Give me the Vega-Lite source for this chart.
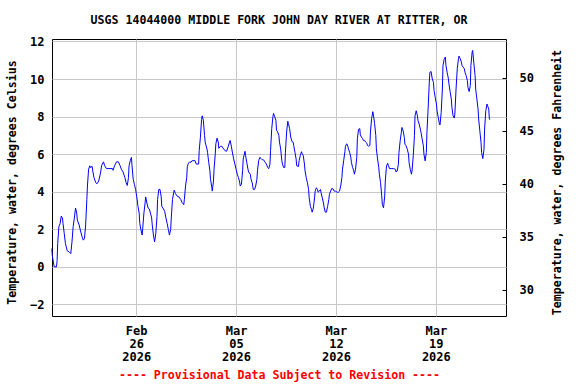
{
  "$schema": "https://vega.github.io/schema/vega-lite/v6.json",
  "width": 454,
  "height": 277,
  "autosize": "none",
  "padding": {"left": 52, "top": 39, "right": 70, "bottom": 68},
  "background": "white",
  "title": {
    "text": "USGS 14044000 MIDDLE FORK JOHN DAY RIVER AT RITTER, OR",
    "font": "DejaVu Sans Mono",
    "fontSize": 11.6,
    "fontWeight": "bold",
    "color": "black",
    "anchor": "middle",
    "offset": 9
  },
  "config": {
    "view": {"stroke": "black", "strokeWidth": 1},
    "axis": {
      "labelFont": "DejaVu Sans Mono",
      "labelFontSize": 12,
      "labelFontWeight": "bold",
      "labelColor": "black",
      "titleFont": "DejaVu Sans Mono",
      "titleFontSize": 11.6,
      "titleFontWeight": "bold",
      "titleColor": "black",
      "gridColor": "#c8c8c8",
      "gridWidth": 1,
      "domain": false
    }
  },
  "data": {
    "values": [
      {"t":"2026-02-20T02:00","v":0.97},{"t":"2026-02-20T03:00","v":0.58},{"t":"2026-02-20T05:00","v":0.2},{"t":"2026-02-20T06:00","v":0},{"t":"2026-02-20T10:00","v":0},{"t":"2026-02-20T11:00","v":0.34},{"t":"2026-02-20T12:00","v":1.24},{"t":"2026-02-20T14:00","v":2.14},{"t":"2026-02-20T16:00","v":2.3},{"t":"2026-02-20T18:00","v":2.7},{"t":"2026-02-20T20:00","v":2.6},{"t":"2026-02-20T21:00","v":2.3},{"t":"2026-02-20T23:00","v":1.78},
      {"t":"2026-02-21T01:00","v":1.24},{"t":"2026-02-21T04:00","v":0.85},{"t":"2026-02-21T07:00","v":0.8},{"t":"2026-02-21T10:00","v":0.7},{"t":"2026-02-21T12:00","v":1.33},{"t":"2026-02-21T14:00","v":2.14},{"t":"2026-02-21T16:00","v":2.6},{"t":"2026-02-21T18:00","v":3.13},{"t":"2026-02-21T20:00","v":2.86},{"t":"2026-02-21T21:00","v":2.5},
      {"t":"2026-02-22T00:00","v":2.23},{"t":"2026-02-22T02:00","v":1.96},{"t":"2026-02-22T05:00","v":1.6},{"t":"2026-02-22T07:00","v":1.42},{"t":"2026-02-22T09:00","v":1.5},{"t":"2026-02-22T11:00","v":2.23},{"t":"2026-02-22T13:00","v":3.58},{"t":"2026-02-22T14:00","v":4.3},{"t":"2026-02-22T16:00","v":5.2},{"t":"2026-02-22T18:00","v":5.38},{"t":"2026-02-22T19:00","v":5.29},{"t":"2026-02-22T22:00","v":5.34},{"t":"2026-02-22T23:00","v":5.1},
      {"t":"2026-02-23T01:00","v":4.75},{"t":"2026-02-23T04:00","v":4.48},{"t":"2026-02-23T06:00","v":4.42},{"t":"2026-02-23T09:00","v":4.57},{"t":"2026-02-23T12:00","v":5.0},{"t":"2026-02-23T14:00","v":5.41},{"t":"2026-02-23T17:00","v":5.59},{"t":"2026-02-23T19:00","v":5.38},{"t":"2026-02-23T22:00","v":5.23},
      {"t":"2026-02-24T04:00","v":5.23},{"t":"2026-02-24T08:00","v":5.23},{"t":"2026-02-24T09:00","v":5.14},{"t":"2026-02-24T12:00","v":5.41},{"t":"2026-02-24T15:00","v":5.59},{"t":"2026-02-24T18:00","v":5.59},{"t":"2026-02-24T21:00","v":5.38},{"t":"2026-02-24T23:00","v":5.2},
      {"t":"2026-02-25T02:00","v":5.05},{"t":"2026-02-25T05:00","v":4.75},{"t":"2026-02-25T07:00","v":4.48},{"t":"2026-02-25T09:00","v":4.33},{"t":"2026-02-25T11:00","v":4.75},{"t":"2026-02-25T12:00","v":5.38},{"t":"2026-02-25T14:00","v":5.65},{"t":"2026-02-25T16:00","v":5.83},{"t":"2026-02-25T17:00","v":5.38},{"t":"2026-02-25T19:00","v":4.66},{"t":"2026-02-25T21:00","v":4.39},{"t":"2026-02-25T23:00","v":4.12},
      {"t":"2026-02-26T01:00","v":3.72},{"t":"2026-02-26T03:00","v":3.22},{"t":"2026-02-26T05:00","v":2.86},{"t":"2026-02-26T06:00","v":2.32},{"t":"2026-02-26T08:00","v":1.96},{"t":"2026-02-26T10:00","v":1.69},{"t":"2026-02-26T11:00","v":2.05},{"t":"2026-02-26T13:00","v":2.86},{"t":"2026-02-26T15:00","v":3.4},{"t":"2026-02-26T16:00","v":3.72},{"t":"2026-02-26T18:00","v":3.4},{"t":"2026-02-26T20:00","v":3.13},{"t":"2026-02-26T22:00","v":3.08},
      {"t":"2026-02-27T00:00","v":2.86},{"t":"2026-02-27T02:00","v":2.6},{"t":"2026-02-27T03:00","v":2.23},{"t":"2026-02-27T05:00","v":1.69},{"t":"2026-02-27T07:00","v":1.33},{"t":"2026-02-27T09:00","v":1.78},{"t":"2026-02-27T11:00","v":2.68},{"t":"2026-02-27T12:00","v":3.58},{"t":"2026-02-27T14:00","v":4.12},{"t":"2026-02-27T16:00","v":4.12},{"t":"2026-02-27T18:00","v":3.76},{"t":"2026-02-27T19:00","v":3.22},{"t":"2026-02-27T21:00","v":3.13},
      {"t":"2026-02-28T00:00","v":2.95},{"t":"2026-02-28T02:00","v":2.6},{"t":"2026-02-28T04:00","v":2.32},{"t":"2026-02-28T06:00","v":2.0},{"t":"2026-02-28T08:00","v":1.69},{"t":"2026-02-28T10:00","v":2.0},{"t":"2026-02-28T11:00","v":2.6},{"t":"2026-02-28T13:00","v":3.58},{"t":"2026-02-28T15:00","v":3.94},{"t":"2026-02-28T16:00","v":4.08},{"t":"2026-02-28T18:00","v":3.9},{"t":"2026-02-28T21:00","v":3.76},
      {"t":"2026-03-01T00:00","v":3.72},{"t":"2026-03-01T03:00","v":3.58},{"t":"2026-03-01T05:00","v":3.43},{"t":"2026-03-01T08:00","v":3.31},{"t":"2026-03-01T09:00","v":3.58},{"t":"2026-03-01T11:00","v":4.3},{"t":"2026-03-01T13:00","v":4.75},{"t":"2026-03-01T14:00","v":5.34},{"t":"2026-03-01T16:00","v":5.52},{"t":"2026-03-01T18:00","v":5.59},{"t":"2026-03-01T20:00","v":5.56},{"t":"2026-03-01T22:00","v":5.65},
      {"t":"2026-03-02T03:00","v":5.65},{"t":"2026-03-02T05:00","v":5.47},{"t":"2026-03-02T09:00","v":5.47},{"t":"2026-03-02T10:00","v":6.19},{"t":"2026-03-02T12:00","v":6.9},{"t":"2026-03-02T14:00","v":7.85},{"t":"2026-03-02T15:00","v":8.04},{"t":"2026-03-02T17:00","v":7.8},{"t":"2026-03-02T19:00","v":7.0},{"t":"2026-03-02T20:00","v":6.64},{"t":"2026-03-02T23:00","v":6.28},
      {"t":"2026-03-03T00:00","v":6.1},{"t":"2026-03-03T02:00","v":5.56},{"t":"2026-03-03T04:00","v":5.11},{"t":"2026-03-03T05:00","v":4.66},{"t":"2026-03-03T07:00","v":4.26},{"t":"2026-03-03T08:00","v":4.03},{"t":"2026-03-03T10:00","v":4.57},{"t":"2026-03-03T11:00","v":5.2},{"t":"2026-03-03T13:00","v":6.0},{"t":"2026-03-03T14:00","v":6.55},{"t":"2026-03-03T16:00","v":6.85},{"t":"2026-03-03T18:00","v":6.64},{"t":"2026-03-03T19:00","v":6.31},{"t":"2026-03-03T22:00","v":6.42},
      {"t":"2026-03-04T00:00","v":6.42},{"t":"2026-03-04T03:00","v":6.28},{"t":"2026-03-04T06:00","v":6.17},{"t":"2026-03-04T08:00","v":6.15},{"t":"2026-03-04T11:00","v":6.42},{"t":"2026-03-04T13:00","v":6.64},{"t":"2026-03-04T14:00","v":6.73},{"t":"2026-03-04T16:00","v":6.42},{"t":"2026-03-04T18:00","v":6.06},{"t":"2026-03-04T20:00","v":5.74},{"t":"2026-03-04T22:00","v":5.47},
      {"t":"2026-03-05T00:00","v":5.2},{"t":"2026-03-05T02:00","v":4.93},{"t":"2026-03-05T04:00","v":4.75},{"t":"2026-03-05T06:00","v":4.51},{"t":"2026-03-05T07:00","v":4.3},{"t":"2026-03-05T09:00","v":4.39},{"t":"2026-03-05T11:00","v":5.11},{"t":"2026-03-05T12:00","v":5.74},{"t":"2026-03-05T15:00","v":6.15},{"t":"2026-03-05T16:00","v":5.92},{"t":"2026-03-05T18:00","v":5.56},{"t":"2026-03-05T20:00","v":5.2},{"t":"2026-03-05T21:00","v":5.05},
      {"t":"2026-03-06T00:00","v":4.93},{"t":"2026-03-06T01:00","v":4.69},{"t":"2026-03-06T03:00","v":4.48},{"t":"2026-03-06T05:00","v":4.12},{"t":"2026-03-06T07:00","v":4.12},{"t":"2026-03-06T09:00","v":4.3},{"t":"2026-03-06T11:00","v":4.66},{"t":"2026-03-06T12:00","v":5.11},{"t":"2026-03-06T14:00","v":5.65},{"t":"2026-03-06T16:00","v":5.83},{"t":"2026-03-06T18:00","v":5.77},{"t":"2026-03-06T20:00","v":5.7},{"t":"2026-03-06T22:00","v":5.7},
      {"t":"2026-03-07T01:00","v":5.56},{"t":"2026-03-07T03:00","v":5.47},{"t":"2026-03-07T05:00","v":5.29},{"t":"2026-03-07T07:00","v":5.23},{"t":"2026-03-07T09:00","v":5.47},{"t":"2026-03-07T10:00","v":6.19},{"t":"2026-03-07T12:00","v":7.36},{"t":"2026-03-07T14:00","v":7.99},{"t":"2026-03-07T15:00","v":8.17},{"t":"2026-03-07T17:00","v":7.99},{"t":"2026-03-07T19:00","v":7.8},{"t":"2026-03-07T20:00","v":7.27},{"t":"2026-03-07T22:00","v":7.18},
      {"t":"2026-03-08T00:00","v":7.0},{"t":"2026-03-08T01:00","v":6.64},{"t":"2026-03-08T03:00","v":6.28},{"t":"2026-03-08T05:00","v":5.65},{"t":"2026-03-08T06:00","v":5.47},{"t":"2026-03-08T08:00","v":5.29},{"t":"2026-03-08T10:00","v":5.29},{"t":"2026-03-08T11:00","v":6.1},{"t":"2026-03-08T13:00","v":7.18},{"t":"2026-03-08T15:00","v":7.75},{"t":"2026-03-08T16:00","v":7.63},{"t":"2026-03-08T18:00","v":7.36},{"t":"2026-03-08T20:00","v":6.9},{"t":"2026-03-08T22:00","v":6.67},
      {"t":"2026-03-09T00:00","v":6.64},{"t":"2026-03-09T01:00","v":6.46},{"t":"2026-03-09T03:00","v":6.1},{"t":"2026-03-09T05:00","v":5.74},{"t":"2026-03-09T06:00","v":5.38},{"t":"2026-03-09T09:00","v":5.34},{"t":"2026-03-09T10:00","v":5.65},{"t":"2026-03-09T12:00","v":5.92},{"t":"2026-03-09T14:00","v":6.13},{"t":"2026-03-09T15:00","v":6.04},{"t":"2026-03-09T17:00","v":5.92},{"t":"2026-03-09T19:00","v":5.47},{"t":"2026-03-09T20:00","v":5.11},{"t":"2026-03-09T22:00","v":4.75},
      {"t":"2026-03-10T00:00","v":4.48},{"t":"2026-03-10T02:00","v":4.12},{"t":"2026-03-10T03:00","v":3.67},{"t":"2026-03-10T05:00","v":3.22},{"t":"2026-03-10T07:00","v":3.04},{"t":"2026-03-10T08:00","v":2.91},{"t":"2026-03-10T10:00","v":3.13},{"t":"2026-03-10T12:00","v":3.67},{"t":"2026-03-10T13:00","v":4.03},{"t":"2026-03-10T15:00","v":4.21},{"t":"2026-03-10T17:00","v":4.12},{"t":"2026-03-10T18:00","v":3.97},{"t":"2026-03-10T20:00","v":4.03},{"t":"2026-03-10T22:00","v":4.12},{"t":"2026-03-10T23:00","v":3.94},
      {"t":"2026-03-11T01:00","v":3.67},{"t":"2026-03-11T03:00","v":3.4},{"t":"2026-03-11T04:00","v":3.18},{"t":"2026-03-11T06:00","v":2.91},{"t":"2026-03-11T08:00","v":2.91},{"t":"2026-03-11T10:00","v":3.22},{"t":"2026-03-11T12:00","v":3.58},{"t":"2026-03-11T13:00","v":3.85},{"t":"2026-03-11T15:00","v":4.03},{"t":"2026-03-11T17:00","v":4.17},{"t":"2026-03-11T19:00","v":4.15},{"t":"2026-03-11T21:00","v":4.03},{"t":"2026-03-11T23:00","v":4.03},
      {"t":"2026-03-12T02:00","v":3.97},{"t":"2026-03-12T04:00","v":3.97},{"t":"2026-03-12T06:00","v":4.03},{"t":"2026-03-12T08:00","v":4.3},{"t":"2026-03-12T10:00","v":4.75},{"t":"2026-03-12T11:00","v":5.2},{"t":"2026-03-12T13:00","v":5.65},{"t":"2026-03-12T15:00","v":6.13},{"t":"2026-03-12T16:00","v":6.42},{"t":"2026-03-12T18:00","v":6.55},{"t":"2026-03-12T20:00","v":6.42},{"t":"2026-03-12T21:00","v":6.28},{"t":"2026-03-12T23:00","v":6.1},
      {"t":"2026-03-13T01:00","v":5.83},{"t":"2026-03-13T02:00","v":5.56},{"t":"2026-03-13T04:00","v":5.29},{"t":"2026-03-13T06:00","v":5.11},{"t":"2026-03-13T07:00","v":4.93},{"t":"2026-03-13T09:00","v":5.2},{"t":"2026-03-13T11:00","v":5.83},{"t":"2026-03-13T12:00","v":6.82},{"t":"2026-03-13T14:00","v":7.32},{"t":"2026-03-13T16:00","v":7.36},{"t":"2026-03-13T17:00","v":7.03},{"t":"2026-03-13T19:00","v":6.9},{"t":"2026-03-13T21:00","v":6.82},{"t":"2026-03-13T22:00","v":6.73},
      {"t":"2026-03-14T00:00","v":6.73},{"t":"2026-03-14T02:00","v":6.64},{"t":"2026-03-14T04:00","v":6.58},{"t":"2026-03-14T05:00","v":6.46},{"t":"2026-03-14T07:00","v":6.42},{"t":"2026-03-14T09:00","v":6.46},{"t":"2026-03-14T10:00","v":7.18},{"t":"2026-03-14T12:00","v":7.9},{"t":"2026-03-14T14:00","v":8.26},{"t":"2026-03-14T15:00","v":8.08},{"t":"2026-03-14T17:00","v":7.63},{"t":"2026-03-14T19:00","v":7.0},{"t":"2026-03-14T20:00","v":6.28},{"t":"2026-03-14T22:00","v":5.74},
      {"t":"2026-03-15T00:00","v":5.29},{"t":"2026-03-15T01:00","v":4.93},{"t":"2026-03-15T03:00","v":4.48},{"t":"2026-03-15T05:00","v":3.77},{"t":"2026-03-15T06:00","v":3.32},{"t":"2026-03-15T08:00","v":3.14},{"t":"2026-03-15T10:00","v":3.77},{"t":"2026-03-15T11:00","v":4.57},{"t":"2026-03-15T13:00","v":5.37},{"t":"2026-03-15T15:00","v":5.51},{"t":"2026-03-15T16:00","v":5.41},{"t":"2026-03-15T18:00","v":5.23},{"t":"2026-03-15T22:00","v":5.23},
      {"t":"2026-03-16T01:00","v":5.23},{"t":"2026-03-16T04:00","v":5.19},{"t":"2026-03-16T05:00","v":5.05},{"t":"2026-03-16T07:00","v":5.1},{"t":"2026-03-16T09:00","v":5.46},{"t":"2026-03-16T10:00","v":6.09},{"t":"2026-03-16T12:00","v":6.71},{"t":"2026-03-16T14:00","v":7.16},{"t":"2026-03-16T15:00","v":7.42},{"t":"2026-03-16T17:00","v":7.24},{"t":"2026-03-16T19:00","v":6.89},{"t":"2026-03-16T20:00","v":6.53},{"t":"2026-03-16T22:00","v":6.44},
      {"t":"2026-03-17T00:00","v":6.26},{"t":"2026-03-17T02:00","v":6.0},{"t":"2026-03-17T03:00","v":5.55},{"t":"2026-03-17T05:00","v":5.19},{"t":"2026-03-17T07:00","v":4.93},{"t":"2026-03-17T08:00","v":5.1},{"t":"2026-03-17T10:00","v":5.91},{"t":"2026-03-17T12:00","v":6.98},{"t":"2026-03-17T13:00","v":8.04},{"t":"2026-03-17T15:00","v":8.31},{"t":"2026-03-17T17:00","v":8.04},{"t":"2026-03-17T18:00","v":7.78},{"t":"2026-03-17T20:00","v":7.6},{"t":"2026-03-17T22:00","v":7.33},{"t":"2026-03-17T23:00","v":7.16},
      {"t":"2026-03-18T01:00","v":6.8},{"t":"2026-03-18T03:00","v":6.44},{"t":"2026-03-18T04:00","v":6.0},{"t":"2026-03-18T06:00","v":5.64},{"t":"2026-03-18T08:00","v":6.09},{"t":"2026-03-18T09:00","v":7.16},{"t":"2026-03-18T11:00","v":8.4},{"t":"2026-03-18T13:00","v":9.83},{"t":"2026-03-18T14:00","v":10.36},{"t":"2026-03-18T16:00","v":10.4},{"t":"2026-03-18T18:00","v":10.0},{"t":"2026-03-18T20:00","v":9.83},{"t":"2026-03-18T21:00","v":9.38},{"t":"2026-03-18T23:00","v":9.02},
      {"t":"2026-03-19T01:00","v":8.67},{"t":"2026-03-19T02:00","v":8.31},{"t":"2026-03-19T04:00","v":7.96},{"t":"2026-03-19T06:00","v":7.6},{"t":"2026-03-19T07:00","v":7.55},{"t":"2026-03-19T09:00","v":8.22},{"t":"2026-03-19T11:00","v":9.47},{"t":"2026-03-19T12:00","v":10.72},{"t":"2026-03-19T14:00","v":11.04},{"t":"2026-03-19T16:00","v":11.17},{"t":"2026-03-19T17:00","v":10.72},{"t":"2026-03-19T19:00","v":10.36},{"t":"2026-03-19T21:00","v":10.04},{"t":"2026-03-19T22:00","v":9.74},
      {"t":"2026-03-20T00:00","v":9.33},{"t":"2026-03-20T02:00","v":8.94},{"t":"2026-03-20T03:00","v":8.49},{"t":"2026-03-20T05:00","v":8.04},{"t":"2026-03-20T07:00","v":7.92},{"t":"2026-03-20T08:00","v":8.13},{"t":"2026-03-20T10:00","v":9.47},{"t":"2026-03-20T12:00","v":10.54},{"t":"2026-03-20T14:00","v":11.08},{"t":"2026-03-20T15:00","v":11.22},{"t":"2026-03-20T17:00","v":11.08},{"t":"2026-03-20T19:00","v":10.9},{"t":"2026-03-20T20:00","v":10.72},{"t":"2026-03-20T22:00","v":10.63},
      {"t":"2026-03-21T00:00","v":10.54},{"t":"2026-03-21T01:00","v":10.36},{"t":"2026-03-21T03:00","v":10.18},{"t":"2026-03-21T05:00","v":9.92},{"t":"2026-03-21T06:00","v":9.56},{"t":"2026-03-21T08:00","v":9.33},{"t":"2026-03-21T10:00","v":9.65},{"t":"2026-03-21T11:00","v":10.72},{"t":"2026-03-21T13:00","v":11.43},{"t":"2026-03-21T14:00","v":11.52},{"t":"2026-03-21T16:00","v":10.81},{"t":"2026-03-21T18:00","v":10.18},{"t":"2026-03-21T19:00","v":9.47},{"t":"2026-03-21T21:00","v":8.94},{"t":"2026-03-21T23:00","v":8.4},
      {"t":"2026-03-22T00:00","v":7.87},{"t":"2026-03-22T02:00","v":7.24},{"t":"2026-03-22T04:00","v":6.62},{"t":"2026-03-22T05:00","v":6.09},{"t":"2026-03-22T07:00","v":5.76},{"t":"2026-03-22T09:00","v":6.26},{"t":"2026-03-22T10:00","v":7.33},{"t":"2026-03-22T12:00","v":8.31},{"t":"2026-03-22T14:00","v":8.67},{"t":"2026-03-22T15:00","v":8.58},{"t":"2026-03-22T17:00","v":8.4},{"t":"2026-03-22T18:00","v":7.87},{"t":"2026-03-22T19:00","v":7.83}
    ]
  },
  "encoding": {
    "x": {
      "field": "t",
      "type": "temporal",
      "scale": {
        "domain": [
          {"year": 2026, "month": "feb", "date": 20, "hours": 2, "minutes": 24},
          {"year": 2026, "month": "mar", "date": 23, "hours": 22}
        ]
      },
      "axis": {
        "values": [
          {"year": 2026, "month": "feb", "date": 26},
          {"year": 2026, "month": "mar", "date": 5},
          {"year": 2026, "month": "mar", "date": 12},
          {"year": 2026, "month": "mar", "date": 19}
        ],
        "labelExpr": "[timeFormat(datum.value, '%b'), timeFormat(datum.value, '%d'), timeFormat(datum.value, '%Y')]",
        "labelLineHeight": 13,
        "labelBaseline": "top",
        "labelPadding": 9,
        "ticks": false,
        "grid": true,
        "title": "---- Provisional Data Subject to Revision ----",
        "titleColor": "#ff0000",
        "titleBaseline": "middle",
        "titleY": 59
      }
    }
  },
  "layer": [
    {
      "mark": {"type": "line", "color": "#0000ff", "strokeWidth": 1, "interpolate": "linear"},
      "encoding": {
        "y": {
          "field": "v",
          "type": "quantitative",
          "scale": {"domain": [-2.62, 12.13], "nice": false, "zero": false},
          "axis": {
            "values": [-2, 0, 2, 4, 6, 8, 10, 12],
            "ticks": false,
            "labelPadding": 8,
            "grid": true,
            "title": "Temperature, water, degrees Celsius",
            "titleAngle": 270,
            "titleAlign": "center",
            "titleBaseline": "middle",
            "titleX": -40,
            "titleY": 143
          }
        }
      }
    },
    {
      "mark": {"type": "rule", "strokeOpacity": 0},
      "encoding": {
        "y": {
          "datum": 40,
          "type": "quantitative",
          "scale": {"domain": [27.55, 53.64], "nice": false, "zero": false},
          "axis": {
            "orient": "right",
            "values": [30, 35, 40, 45, 50],
            "grid": false,
            "ticks": true,
            "tickSize": -4,
            "tickColor": "black",
            "labelPadding": 17,
            "title": "Temperature, water, degrees Fahrenheit",
            "titleAngle": 270,
            "titleAlign": "center",
            "titleBaseline": "middle",
            "titleX": 51,
            "titleY": 143
          }
        }
      }
    }
  ],
  "resolve": {"scale": {"y": "independent"}, "axis": {"y": "independent"}}
}
